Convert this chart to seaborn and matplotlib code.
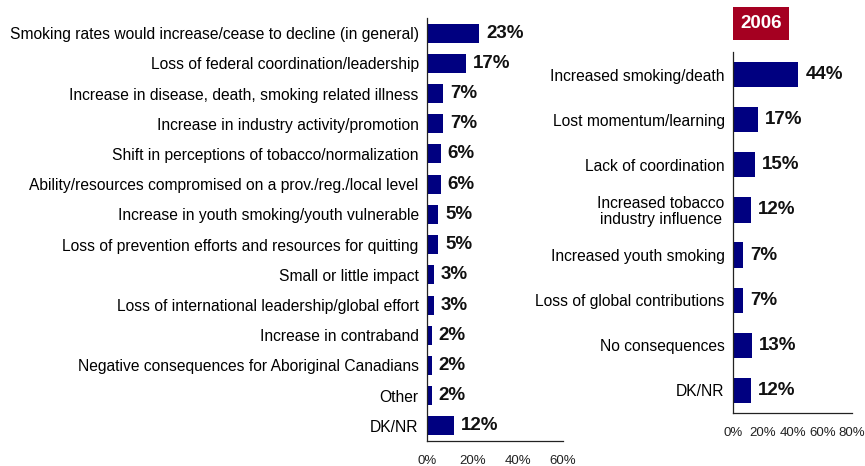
import matplotlib
matplotlib.use("Agg")
import matplotlib.pyplot as plt
import matplotlib.patches as mpatches
import seaborn as sns
import pandas as pd

# Perceived consequences (left: open-ended mentions; right: 2006 survey)
left_labels = [
    "Smoking rates would increase/cease to decline (in general)",
    "Loss of federal coordination/leadership",
    "Increase in disease, death, smoking related illness",
    "Increase in industry activity/promotion",
    "Shift in perceptions of tobacco/normalization",
    "Ability/resources compromised on a prov./reg./local level",
    "Increase in youth smoking/youth vulnerable",
    "Loss of prevention efforts and resources for quitting",
    "Small or little impact",
    "Loss of international leadership/global effort",
    "Increase in contraband",
    "Negative consequences for Aboriginal Canadians",
    "Other",
    "DK/NR",
]
left_values = [23, 17, 7, 7, 6, 6, 5, 5, 3, 3, 2, 2, 2, 12]

right_labels = [
    "Increased smoking/death",
    "Lost momentum/learning",
    "Lack of coordination",
    "Increased tobacco\nindustry influence",
    "Increased youth smoking",
    "Loss of global contributions",
    "No consequences",
    "DK/NR",
]
right_values = [44, 17, 15, 12, 7, 7, 13, 12]

left_ticks = [0, 20, 40, 60]
right_ticks = [0, 20, 40, 60, 80]
year_label = "2006"

sns.set_style("white")
plt.rcParams["font.family"] = ["Liberation Sans", "DejaVu Sans"]

W, H = 865, 466
fig = plt.figure(figsize=(W / 100, H / 100), dpi=100)


def px_axes(x0, x1, ytop, ybot):
    return fig.add_axes([x0 / W, (H - ybot) / H, (x1 - x0) / W, (ybot - ytop) / H])


NAVY = "#000080"


def draw_panel(ax, labels, values, ticks, bar_w):
    df = pd.DataFrame({"label": labels, "value": values})
    sns.barplot(data=df, x="value", y="label", orient="h", color=NAVY,
                width=bar_w, saturation=1, ax=ax, edgecolor="none")
    ax.set_xlim(ticks[0], ticks[-1])
    ax.set_xticks(ticks)
    ax.set_xticklabels([f"{t}%" for t in ticks], fontsize=9.5, color="#222222")
    ax.set_xlabel("")
    ax.set_ylabel("")
    ax.tick_params(axis="y", length=0, pad=6, labelsize=11.25, labelcolor="black")
    ax.tick_params(axis="x", direction="out", length=4, width=0.8,
                   color="#333333", pad=6)
    for lbl in ax.get_yticklabels():
        lbl.set_multialignment("center")
        lbl.set_linespacing(1.05)
    for s in ("top", "right"):
        ax.spines[s].set_visible(False)
    for s in ("left", "bottom"):
        ax.spines[s].set_color("#222222")
        ax.spines[s].set_linewidth(0.9)
    ax.bar_label(ax.containers[0], labels=[f"{v}%" for v in values],
                 padding=5, fontsize=13.5, fontweight="bold", color="#111111")


ax_left = px_axes(427, 563, 18, 441)
draw_panel(ax_left, left_labels, left_values, left_ticks, 0.63)

ax_right = px_axes(733, 852, 52, 413)
draw_panel(ax_right, right_labels, right_values, right_ticks, 0.56)

# Year badge above the right panel
bx0, bx1, by0, by1 = 733, 789, 7, 40
fig.patches.append(mpatches.Rectangle(
    (bx0 / W, (H - by1) / H), (bx1 - bx0) / W, (by1 - by0) / H,
    transform=fig.transFigure, facecolor="#A50021", edgecolor="none"))
fig.text((bx0 + bx1) / 2 / W, (H - (by0 + by1) / 2) / H, year_label,
         ha="center", va="center", color="white", fontsize=13.5,
         fontweight="bold")

fig.savefig("out.png", dpi=100)
